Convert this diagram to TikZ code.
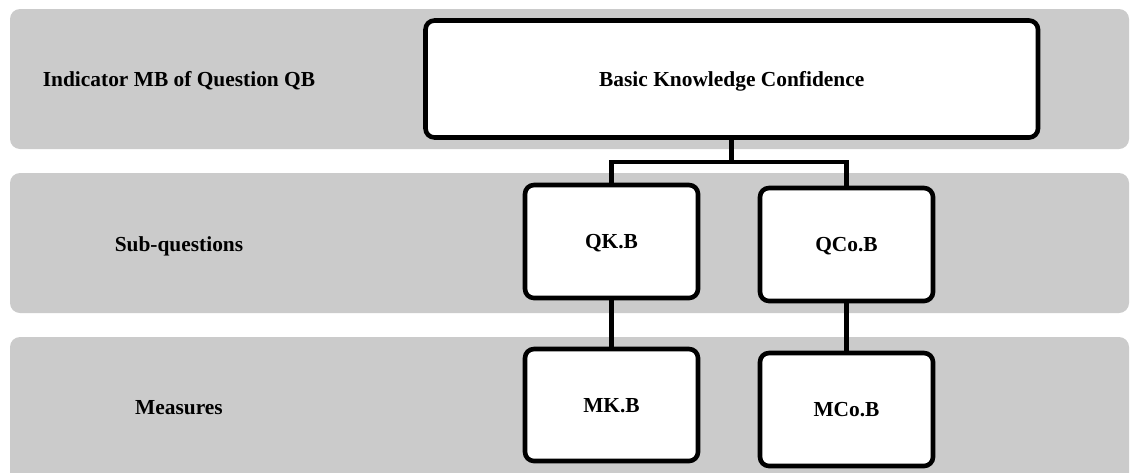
\documentclass[tikz,border=0pt]{standalone}
\usepackage{fontspec}
\setmainfont{Liberation Serif}
\begin{document}
\begin{tikzpicture}[x=1pt,y=-1pt,
  band/.style={fill=bandgray,rounded corners=10pt},
  txt/.style={font=\fontsize{21.4}{25}\selectfont\bfseries,text height=14.2pt,text depth=0pt,inner sep=0pt},
  lbl/.style={txt},
  card/.style={txt,draw=black,fill=white,line width=4.6pt,rounded corners=9pt},
  link/.style={draw=black,line width=4.6pt}]
\definecolor{bandgray}{HTML}{CBCBCB}
\useasboundingbox (0,0) rectangle (1130,472);
\begin{scope}
\clip (0,0) rectangle (1130,472);
% three horizontal levels
\path[band] (10,9) rectangle (1129,149);
\path[band] (10,173) rectangle (1129,313);
\path[band] (10,337) rectangle (1129,490);
\end{scope}
% level captions
\node[lbl] (capA) at (179,79.5) {Indicator MB of Question QB};
\node[lbl] (capB) at (179,244) {Sub-questions};
\node[lbl] (capC) at (179,407.5) {Measures};
% hierarchy
\node[card,minimum width=612.5pt,minimum height=117pt] (top) at (731.75,79) {Basic Knowledge Confidence};
\node[card,minimum width=173pt,minimum height=113pt] (qk) at (611.5,241.5) {QK.B};
\node[card,minimum width=173pt,minimum height=113pt] (qco) at (846.5,244.5) {QCo.B};
\node[card,minimum width=173pt,minimum height=112pt] (mk) at (611.5,405) {MK.B};
\node[card,minimum width=173pt,minimum height=113pt] (mco) at (846.5,409.5) {MCo.B};
\coordinate (fork) at (731.75,162);
\draw[link] (top.south) -- (fork) -| (qk.north);
\draw[link] (fork) -| (qco.north);
\draw[link] (qk.south) -- (mk.north);
\draw[link] (qco.south) -- (mco.north);
\end{tikzpicture}
\end{document}
